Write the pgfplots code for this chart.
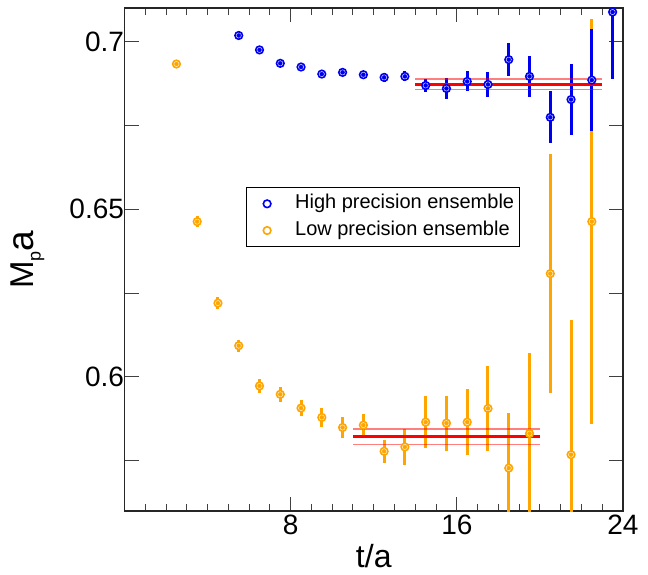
\documentclass[border=0pt]{standalone}
\usepackage{fontspec}
\setmainfont{Liberation Sans}
\usepackage{pgfplots}
\usepackage{pgfplotstable}
\pgfplotsset{compat=1.18}
\definecolor{hiblue}{RGB}{0,0,240}
\definecolor{loorange}{RGB}{255,165,0}

\pgfplotstableread{
t m e
5.5 0.7018 0.0006
6.5 0.6975 0.0007
7.5 0.6935 0.0008
8.5 0.6924 0.0009
9.5 0.6903 0.0010
10.5 0.6908 0.0010
11.5 0.6901 0.0011
12.5 0.6893 0.0013
13.5 0.6896 0.0015
14.5 0.6869 0.0020
15.5 0.6860 0.0030
16.5 0.6881 0.0030
17.5 0.6872 0.0038
18.5 0.6946 0.0050
19.5 0.6896 0.0062
20.5 0.6774 0.0077
21.5 0.6827 0.0107
22.5 0.6885 0.0153
23.5 0.7088 0.0200
}\hidata

\pgfplotstableread{
t m e
2.5 0.6933 0.0013
3.5 0.6463 0.0016
4.5 0.6220 0.0017
5.5 0.6093 0.0018
6.5 0.5973 0.0020
7.5 0.5948 0.0022
8.5 0.5907 0.0025
9.5 0.5879 0.0028
10.5 0.5849 0.0031
11.5 0.5856 0.0033
12.5 0.5778 0.0034
13.5 0.5791 0.0053
14.5 0.5865 0.0078
15.5 0.5862 0.0082
16.5 0.5865 0.0098
17.5 0.5906 0.0126
18.5 0.5728 0.0165
19.5 0.5831 0.0239
20.5 0.6308 0.0356
21.5 0.5768 0.0401
22.5 0.6463 0.0604
}\lodata

\begin{document}
\begin{tikzpicture}
\begin{axis}[
  scale only axis, width=498.5pt, height=503pt,
  xmin=0, xmax=24, ymin=0.56, ymax=0.71,
  xtick={0,8,16,24}, xticklabels={,8,16,24}, minor x tick num=7,
  ytick={0.575,0.6,0.625,0.65,0.675,0.7}, yticklabels={,0.6,,0.65,,0.7},
  tick pos=both, tick align=inside,
  major tick length=14pt, minor tick length=7pt,
  every tick/.style={black!75, line width=1pt},
  axis line style={black!85, line width=1.3pt},
  ticklabel style={font=\fontsize{28}{32}\selectfont},
  yticklabel style={xshift=3pt},
  /pgf/number format/assume math mode=true,
  xlabel={t/a},
  xlabel style={font=\fontsize{32}{36}\selectfont, at={(axis description cs:0.5,-0.112)}, anchor=base},
  ylabel={\fontsize{33}{36}\selectfont M\raisebox{-7.5pt}{\fontsize{18}{20}\selectfont p}\fontsize{37}{40}\selectfont a},
  ylabel style={at={(axis description cs:-0.1835,0.5)}, anchor=base, rotate=0},
  reverse legend,
  legend cell align=left,
  legend image code/.code={\path[draw=none] (0pt,0pt) -- (32pt,0pt); \path[#1, draw=none] plot coordinates {(16pt,0pt)};},
  legend style={at={(rel axis cs:0.243,0.6435)}, anchor=north west, draw=black, line width=1pt,
    font=\fontsize{20}{24}\selectfont, inner xsep=5pt, inner ysep=6.5pt,
    row sep=7.7pt, column sep=12pt,
    nodes={inner sep=0pt, text height=14.5pt, text depth=4.5pt}},
]
\coordinate (sw) at (rel axis cs:0,0);
\coordinate (ne) at (rel axis cs:1,1);

% low precision
\addplot[only marks, color=loorange, mark=*, mark size=3.8pt,
  mark options={fill=white, draw=loorange, line width=1.6pt},
  error bars/.cd, y dir=both, y explicit, error mark=none,
  error bar style={line width=3pt, loorange}]
  table[x=t, y=m, y error=e] {\lodata};
\addlegendentry{Low precision ensemble}
\addplot[forget plot, only marks, mark=none, color=loorange,
  error bars/.cd, x dir=both, x explicit, error mark=-,
  error bar style={line width=0.45pt, loorange},
  error mark options={line width=0.45pt, mark size=0.9pt, loorange}]
  table[x=t, y=m, x error expr=0.06] {\lodata};

% high precision
\addplot[only marks, color=hiblue, mark=*, mark size=3.8pt,
  mark options={fill=white, draw=hiblue, line width=1.6pt},
  error bars/.cd, y dir=both, y explicit, error mark=none,
  error bar style={line width=3pt, hiblue}]
  table[x=t, y=m, y error=e] {\hidata};
\addlegendentry{High precision ensemble}
\addplot[forget plot, only marks, mark=none, color=hiblue,
  error bars/.cd, x dir=both, x explicit, error mark=-,
  error bar style={line width=0.45pt, hiblue},
  error mark options={line width=0.45pt, mark size=0.9pt, hiblue}]
  table[x=t, y=m, x error expr=0.06] {\hidata};

% fits
\addplot[forget plot, red, line width=3pt] coordinates {(14,0.6873) (23,0.6873)};
\addplot[forget plot, red, opacity=0.5, line width=1.5pt] coordinates {(14,0.68876) (23,0.68876)};
\addplot[forget plot, red, opacity=0.5, line width=1.5pt] coordinates {(14,0.68567) (23,0.68567)};
\addplot[forget plot, red, line width=3pt] coordinates {(11,0.5823) (20,0.5823)};
\addplot[forget plot, red, opacity=0.5, line width=1.5pt] coordinates {(11,0.58448) (20,0.58448)};
\addplot[forget plot, red, opacity=0.5, line width=1.5pt] coordinates {(11,0.57990) (20,0.57990)};
\end{axis}
\pgfresetboundingbox
\path ([xshift=-124.5pt,yshift=-63pt]sw) rectangle ([xshift=25pt,yshift=8pt]ne);
\end{tikzpicture}
\end{document}
